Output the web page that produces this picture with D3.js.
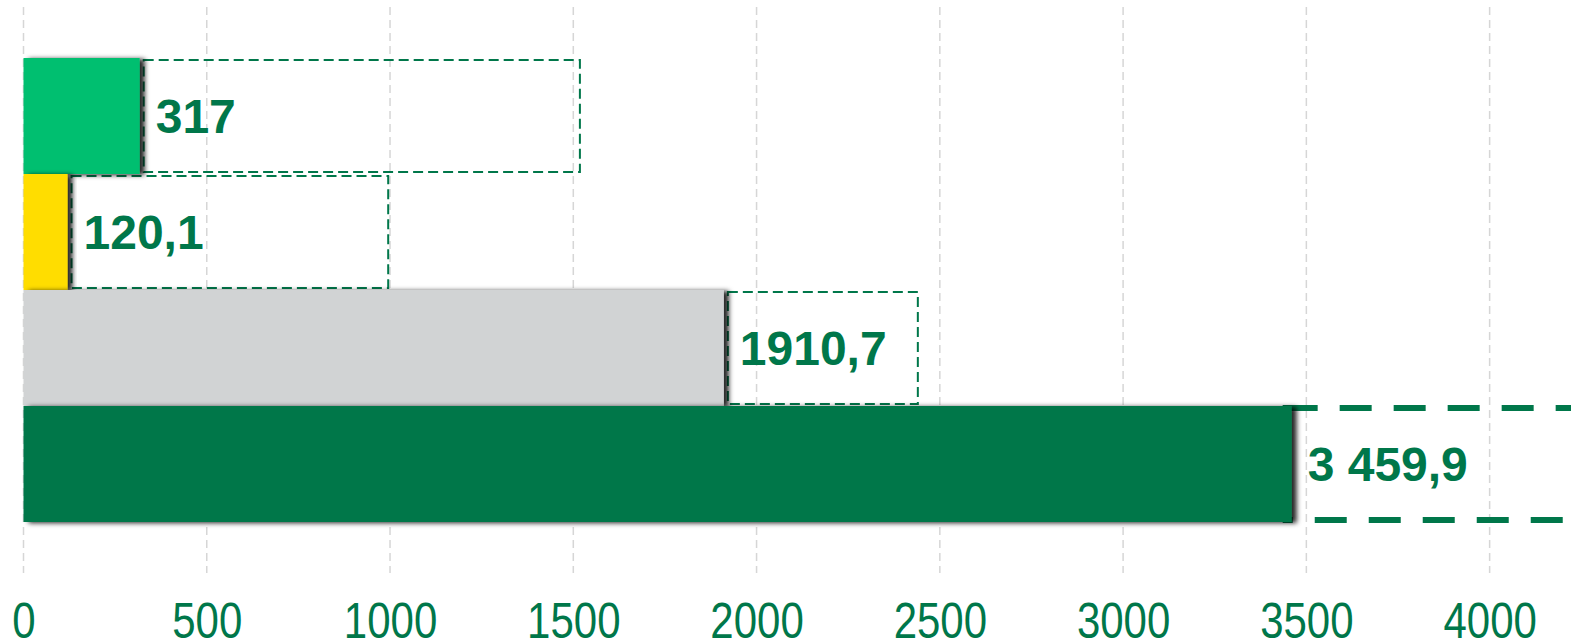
<!DOCTYPE html>
<html>
<head>
<meta charset="utf-8">
<script src="https://cdn.jsdelivr.net/npm/d3@7"></script>
<style>
  html, body { margin: 0; padding: 0; background: #fff; }
  svg { display: block; }
</style>
</head>
<body>
<div id="chart"></div>
<script>
// Bar values, their dashed target boxes, colours and axis ticks
const categories = ['A', 'B', 'C', 'D'];
const values = [317, 120.1, 1910.7, 3459.9];
const targets = [1518, 995, 2440, 4700];
const labels = ['317', '120,1', '1910,7', '3 459,9'];
const colors = ['#00BF6F', '#FFDD00', '#D1D3D4', '#00774A'];
const ticks = [0, 500, 1000, 1500, 2000, 2500, 3000, 3500, 4000];

const width = 1571, height = 644;
const green = '#00774A';

const svg = d3.select('#chart').append('svg')
    .attr('width', width)
    .attr('height', height);

const defs = svg.append('defs');
const shadow = defs.append('filter').attr('id', 'shadow')
    .attr('x', '-10%').attr('y', '-20%').attr('width', '130%').attr('height', '150%');
shadow.append('feDropShadow')
    .attr('dx', 5).attr('dy', 1).attr('stdDeviation', 2.5)
    .attr('flood-color', '#000').attr('flood-opacity', 0.85);

const x = d3.scaleLinear().domain([0, 4222]).range([23.5, width]);
const y = d3.scaleBand().domain(categories).range([58, 522]).padding(0);

// Gridlines
svg.append('g').selectAll('line').data(ticks).enter().append('line')
    .attr('x1', d => x(d)).attr('x2', d => x(d))
    .attr('y1', 7).attr('y2', 573)
    .attr('stroke', '#d6d6d6')
    .attr('stroke-width', 1.5)
    .attr('stroke-dasharray', '8 5');

// Dashed target boxes (from bar end to target)
svg.append('g').selectAll('rect').data(categories).enter().append('rect')
    .attr('x', (d, i) => x(values[i]) + (i === 3 ? -6 : 4))
    .attr('y', d => y(d) + 2)
    .attr('width', (d, i) => x(targets[i]) - x(values[i]) - (i === 3 ? -6 : 4))
    .attr('height', y.bandwidth() - 4)
    .attr('fill', 'none')
    .attr('stroke', green)
    .attr('stroke-width', (d, i) => i === 3 ? 6 : 2)
    .attr('stroke-dasharray', (d, i) => i === 3 ? '32 22' : '10 5');

// Bars
svg.append('g').selectAll('rect').data(categories).enter().append('rect')
    .attr('x', x(0))
    .attr('y', d => y(d))
    .attr('width', (d, i) => x(values[i]) - x(0))
    .attr('height', y.bandwidth())
    .attr('fill', (d, i) => colors[i])
    .attr('filter', 'url(#shadow)');

// Value labels
svg.append('g').selectAll('text').data(categories).enter().append('text')
    .attr('x', (d, i) => x(values[i]) + 16)
    .attr('y', d => y(d) + y.bandwidth() / 2 + 17)
    .attr('fill', green)
    .attr('font-family', 'Liberation Sans, Arial, sans-serif')
    .attr('font-weight', 'bold')
    .attr('font-size', 48)
    .text((d, i) => labels[i]);

// X axis (condensed digits, like Arial Narrow)
const axis = svg.append('g')
    .attr('transform', 'translate(0,638)')
    .call(d3.axisBottom(x).tickValues(ticks).tickSize(0).tickPadding(0).tickFormat(d3.format('d')));
axis.select('.domain').remove();
axis.selectAll('text')
    .attr('dy', 0)
    .attr('transform', 'scale(0.84,1)')
    .attr('fill', green)
    .attr('font-family', 'Liberation Sans, Arial, sans-serif')
    .attr('font-size', 50);
</script>
</body>
</html>
